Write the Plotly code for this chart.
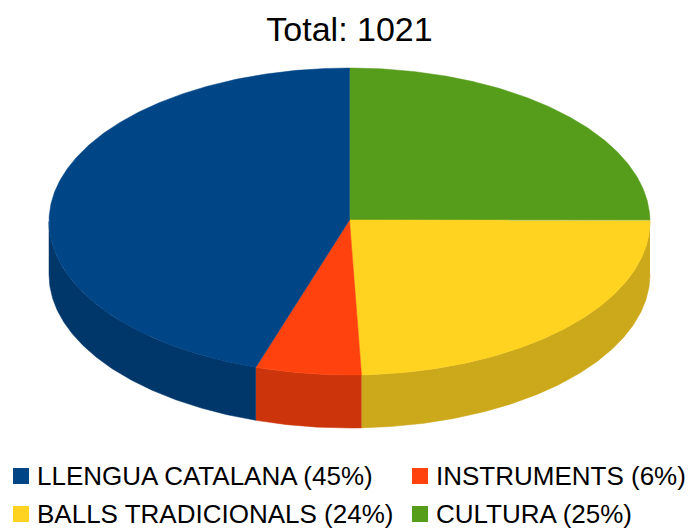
import numpy as np
import plotly.graph_objects as go

total_label = "Total: 1021"
categories = ["CULTURA", "BALLS TRADICIONALS", "INSTRUMENTS", "LLENGUA CATALANA"]
counts = [254, 250, 58, 459]
percents = [25, 24, 6, 45]
top_colors = ["#579d1c", "#ffd320", "#ff420e", "#004586"]
side_colors = ["#467e16", "#cca91a", "#cc350b", "#00376b"]

# pie geometry in screen pixels (the axes run 1:1 with the page)
W, H = 689, 529
CX, CY = 349.5, 221.5
APEX_Y = 220
RX, RY = 300.5, 153.5
DEPTH = 53

# legend cells: category -> (key x, row y)
legend_pos = {
    "LLENGUA CATALANA": (21, 476),
    "INSTRUMENTS": (420, 476),
    "BALLS TRADICIONALS": (21, 514),
    "CULTURA": (420, 514),
}


def rim(a0, a1):
    # a is clockwise from 12 o'clock, in degrees
    n = max(int(abs(a1 - a0)) * 2, 2)
    a = np.radians(np.linspace(a0, a1, n))
    return CX + RX * np.sin(a), CY - RY * np.cos(a)


fracs = np.array(counts) / sum(counts)
edges = np.concatenate([[0], np.cumsum(fracs) * 360])

fig = go.Figure()

# walls first, only the front half of the rim shows
for i, name in enumerate(categories):
    a0, a1 = max(edges[i], 90), min(edges[i + 1], 270)
    if a1 <= a0:
        continue
    x, y = rim(a0, a1)
    fig.add_trace(go.Scatter(
        x=np.concatenate([x, x[::-1]]),
        y=np.concatenate([y, y[::-1] + DEPTH]),
        mode="lines", fill="toself", fillcolor=side_colors[i],
        line=dict(color=side_colors[i], width=0.5),
        hoverinfo="skip", showlegend=False))

for i, name in enumerate(categories):
    x, y = rim(edges[i], edges[i + 1])
    fig.add_trace(go.Scatter(
        x=np.concatenate([[CX], x, [CX]]),
        y=np.concatenate([[APEX_Y], y, [APEX_Y]]),
        mode="lines", fill="toself", fillcolor=top_colors[i],
        line=dict(color=top_colors[i], width=0.5),
        name=name, showlegend=False))

# legend
annotations = []
for i, name in enumerate(categories):
    kx, ky = legend_pos[name]
    fig.add_trace(go.Scatter(
        x=[kx], y=[ky], mode="markers",
        marker=dict(symbol="square", size=16, color=top_colors[i]),
        hoverinfo="skip", showlegend=False))
    annotations.append(dict(
        x=kx + 14, y=ky, xref="x", yref="y", xanchor="left", yanchor="middle",
        text="%s (%d%%)" % (name, percents[i]), showarrow=False,
        font=dict(size=26)))

fig.update_layout(
    width=W, height=H,
    margin=dict(l=0, r=0, t=0, b=0),
    paper_bgcolor="white", plot_bgcolor="white",
    font=dict(family="Liberation Sans", color="black"),
    title=dict(text=total_label, font=dict(size=34), x=349.5 / W, xanchor="center",
               y=1 - 29 / H, yanchor="middle"),
    xaxis=dict(range=[0, W], visible=False, fixedrange=True),
    yaxis=dict(range=[H, 0], visible=False, fixedrange=True),
    annotations=annotations,
)

# the page's default body margin would push the chart 8px off
fig.write_html("out.html", config=dict(displayModeBar=False),
               post_script="document.body.style.margin='0';")
